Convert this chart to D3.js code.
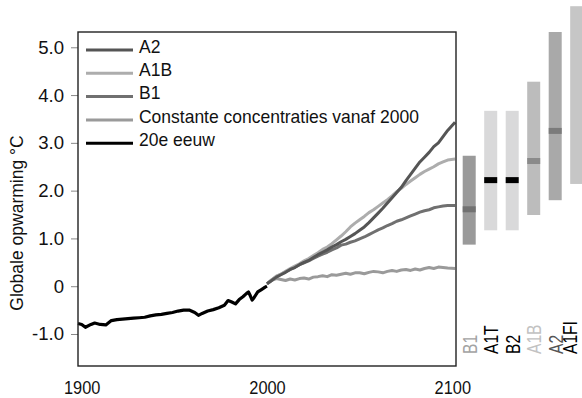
<!DOCTYPE html>
<html>
<head>
<meta charset="utf-8">
<script src="https://cdn.jsdelivr.net/npm/d3@7"></script>
<style>
  body { margin: 0; background: #fff; }
  svg text { font-family: "Liberation Sans", Arial, sans-serif; fill: #111; }
  .axis path { display: none; }
</style>
</head>
<body>
<div id="chart"></div>
<script>
// observed 20th century warming
var histYears = [1898, 1900, 1902, 1905, 1907, 1910, 1913, 1916, 1919, 1922, 1925, 1928, 1931, 1934,
  1937, 1940, 1943, 1946, 1949, 1952, 1955, 1958, 1961, 1963, 1965, 1968, 1971, 1974, 1977,
  1979, 1981, 1983, 1985, 1987, 1989, 1990, 1991, 1992, 1993, 1995, 1997, 1999, 2000];
var histValues = [-0.78, -0.80, -0.86, -0.80, -0.77, -0.80, -0.81, -0.72, -0.70, -0.69, -0.68, -0.67, -0.66, -0.65,
  -0.62, -0.60, -0.59, -0.57, -0.55, -0.52, -0.50, -0.50, -0.55, -0.61, -0.57, -0.52, -0.49, -0.45, -0.40,
  -0.30, -0.33, -0.37, -0.28, -0.22, -0.15, -0.12, -0.20, -0.29, -0.24, -0.12, -0.07, -0.02, 0.00];

// scenario projections
var projYears = [2000, 2002.5, 2005, 2007.5, 2010, 2012.5, 2015, 2017.5, 2020, 2022.5, 2025, 2027.5,
  2030, 2032.5, 2035, 2037.5, 2040, 2042.5, 2045, 2047.5, 2050, 2052.5, 2055, 2057.5, 2060, 2062.5,
  2065, 2067.5, 2070, 2072.5, 2075, 2077.5, 2080, 2082.5, 2085, 2087.5, 2090, 2092.5, 2095, 2097.5, 2101.5];
var a2Values  = [0.05, 0.12, 0.19, 0.24, 0.29, 0.35, 0.39, 0.45, 0.50, 0.54, 0.60, 0.66,
  0.71, 0.76, 0.82, 0.87, 0.93, 0.98, 1.04, 1.10, 1.17, 1.24, 1.33, 1.43, 1.53, 1.63,
  1.74, 1.85, 1.96, 2.07, 2.21, 2.34, 2.47, 2.60, 2.70, 2.80, 2.92, 3.00, 3.13, 3.26, 3.43];
var a1bValues = [0.05, 0.13, 0.21, 0.25, 0.31, 0.37, 0.42, 0.47, 0.53, 0.58, 0.64, 0.70,
  0.77, 0.82, 0.89, 0.97, 1.05, 1.14, 1.24, 1.32, 1.39, 1.46, 1.54, 1.60, 1.67, 1.74,
  1.81, 1.89, 1.98, 2.05, 2.13, 2.20, 2.27, 2.34, 2.40, 2.45, 2.50, 2.56, 2.60, 2.64, 2.66];
var b1Values  = [0.05, 0.13, 0.20, 0.25, 0.30, 0.35, 0.40, 0.45, 0.49, 0.53, 0.58, 0.63,
  0.67, 0.71, 0.76, 0.80, 0.86, 0.88, 0.92, 0.95, 0.99, 1.03, 1.08, 1.13, 1.18, 1.22,
  1.27, 1.31, 1.36, 1.39, 1.43, 1.47, 1.51, 1.55, 1.58, 1.60, 1.64, 1.66, 1.68, 1.69, 1.69];
var constValues = [0.05, 0.12, 0.16, 0.14, 0.12, 0.15, 0.13, 0.16, 0.17, 0.15, 0.19, 0.20,
  0.22, 0.20, 0.24, 0.23, 0.25, 0.27, 0.25, 0.28, 0.28, 0.26, 0.29, 0.31, 0.30, 0.28,
  0.31, 0.33, 0.31, 0.34, 0.35, 0.33, 0.36, 0.34, 0.37, 0.39, 0.37, 0.40, 0.39, 0.38, 0.37];

var legendLabels = ["A2", "A1B", "B1", "Constante concentraties vanaf 2000", "20e eeuw"];

// likely ranges around 2100 per scenario
var scenarios = ["B1", "A1T", "B2", "A1B", "A2", "A1FI"];
var rangeLow  = [0.87, 1.17, 1.17, 1.49, 1.80, 2.14];
var rangeHigh = [2.73, 3.67, 3.67, 4.28, 5.32, 5.86];
var rangeBest = [1.61, 2.22, 2.22, 2.62, 3.25, null];

var yTicks = [-1, 0, 1, 2, 3, 4, 5];
var yTickLabels = ["-1.0", "0", "1.0", "2.0", "3.0", "4.0", "5.0"];
var xTicks = [1900, 2000, 2100];

var lineColors = ["#555", "#adadad", "#707070", "#9a9a9a", "#000"];
var barColors = ["#9a9a9a", "#d9d9da", "#d9d9da", "#bcbcbc", "#a9a9a9", "#c6c6c6"];
var bestColors = ["#727272", "#000", "#000", "#8a8a8a", "#7b7b7b", "#888"];
var labelColors = ["#a3a3a3", "#000", "#000", "#c2c2c2", "#555", "#000"];

var W = 582, H = 398;
var plot = {left: 78, top: 32, right: 456, bottom: 366};

var x = d3.scaleLinear().domain([1898, 2102]).range([plot.left, plot.right]);
var y = d3.scaleLinear().domain([-1.67, 5.32]).range([plot.bottom, plot.top]);

var svg = d3.select("#chart").append("svg")
    .attr("width", W)
    .attr("height", H);

// y axis
var yAxis = svg.append("g")
    .attr("class", "axis")
    .attr("transform", "translate(" + plot.left + ",0)")
    .call(d3.axisLeft(y).tickValues(yTicks)
      .tickFormat(function(d, i) { return yTickLabels[i]; })
      .tickSize(7).tickPadding(7));
yAxis.selectAll("line").attr("stroke", "#888");
yAxis.selectAll("text").style("font-size", "18.6px").attr("fill", "#111");

// x axis
var xAxis = svg.append("g")
    .attr("class", "axis")
    .attr("transform", "translate(0," + plot.bottom + ")")
    .call(d3.axisBottom(x).tickValues(xTicks).tickFormat(d3.format("d")).tickSize(0).tickPadding(15));
xAxis.selectAll("text")
    .style("font-size", "18.6px")
    .attr("fill", "#111")
    .attr("transform", "scale(0.88,1)");

svg.append("text")
    .attr("transform", "translate(23,223) rotate(-90)")
    .attr("text-anchor", "middle")
    .style("font-size", "17.5px")
    .text("Globale opwarming °C");

// lines
var line = d3.line()
    .x(function(d) { return x(d[0]); })
    .y(function(d) { return y(d[1]); });

function series(years, vals) {
  return years.map(function(yr, i) { return [yr, vals[i]]; });
}

var curves = [
  {vals: constValues, color: lineColors[3]},
  {vals: b1Values, color: lineColors[2]},
  {vals: a1bValues, color: lineColors[1]},
  {vals: a2Values, color: lineColors[0]}
];
curves.forEach(function(c) {
  svg.append("path")
      .datum(series(projYears, c.vals))
      .attr("fill", "none")
      .attr("stroke", c.color)
      .attr("stroke-width", 3)
      .attr("stroke-linejoin", "round")
      .attr("d", line);
});

svg.append("path")
    .datum(series(histYears, histValues))
    .attr("fill", "none")
    .attr("stroke", "#000")
    .attr("stroke-width", 3.2)
    .attr("stroke-linejoin", "round")
    .attr("d", line);

// frame
svg.append("rect")
    .attr("x", plot.left)
    .attr("y", plot.top)
    .attr("width", plot.right - plot.left)
    .attr("height", plot.bottom - plot.top)
    .attr("fill", "none")
    .attr("stroke", "#222")
    .attr("stroke-width", 1.4);

// legend
var legend = svg.append("g").attr("transform", "translate(86,50)");
legendLabels.forEach(function(lbl, i) {
  var g = legend.append("g").attr("transform", "translate(0," + (i * 23.3) + ")");
  g.append("line")
      .attr("x1", 0).attr("x2", 47)
      .attr("stroke", lineColors[i])
      .attr("stroke-width", 3);
  g.append("text")
      .attr("transform", "translate(53,2.8) scale(0.94,1)")
      .style("font-size", "18.6px")
      .text(lbl);
});

// scenario range bars
var bx = d3.scaleBand().domain(scenarios).range([462.7, 583.2]).paddingInner(0.395).paddingOuter(0);
scenarios.forEach(function(s, i) {
  svg.append("rect")
      .attr("x", bx(s))
      .attr("y", y(rangeHigh[i]))
      .attr("width", bx.bandwidth())
      .attr("height", y(rangeLow[i]) - y(rangeHigh[i]))
      .attr("fill", barColors[i]);
  if (rangeBest[i] != null) {
    svg.append("rect")
        .attr("x", bx(s))
        .attr("y", y(rangeBest[i]) - 3)
        .attr("width", bx.bandwidth())
        .attr("height", 6)
        .attr("fill", bestColors[i]);
  }
  // keep the last label (with its descent) inside the page edge
  var tx = Math.min(bx(s) + bx.bandwidth() / 2 + 7.5, W - 5.5);
  svg.append("text")
      .attr("transform", "translate(" + tx + ",354) rotate(-90) scale(0.8,1)")
      .style("font-size", "19.5px")
      .style("fill", labelColors[i])
      .text(s);
});
</script>
</body>
</html>
